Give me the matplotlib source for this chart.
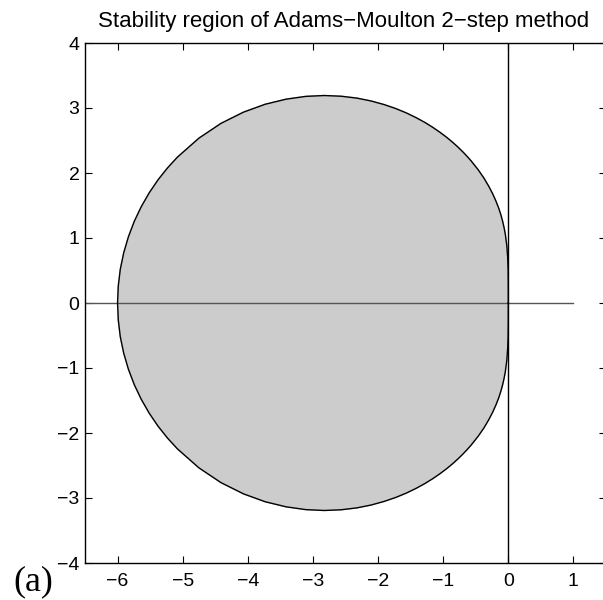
import matplotlib
matplotlib.use("Agg")
import matplotlib.pyplot as plt

# boundary of the stability region (upper half)
bound_x = [0.0, -0.000, -0.001, -0.003, -0.010, -0.023, -0.047, -0.065, -0.087,
           -0.114, -0.148, -0.190, -0.240, -0.301, -0.374, -0.463, -0.570,
           -0.632, -0.700, -0.775, -0.857, -0.948, -1.048, -1.158, -1.280,
           -1.415, -1.563, -1.727, -1.908, -2.107, -2.325, -2.565, -2.826,
           -3.108, -3.411, -3.732, -4.067, -4.411, -4.752, -5.080, -5.234,
           -5.380, -5.514, -5.636, -5.743, -5.833, -5.905, -5.958, -5.989, -6.0]
bound_y = [0.0, 0.175, 0.349, 0.524, 0.700, 0.880, 1.064, 1.159, 1.256,
           1.356, 1.460, 1.568, 1.680, 1.797, 1.921, 2.050, 2.185,
           2.255, 2.327, 2.400, 2.474, 2.550, 2.625, 2.701, 2.777,
           2.851, 2.923, 2.991, 3.053, 3.108, 3.152, 3.181, 3.192,
           3.179, 3.136, 3.058, 2.936, 2.764, 2.535, 2.245, 2.077,
           1.893, 1.695, 1.482, 1.257, 1.020, 0.774, 0.520, 0.261, 0.0]

x_ticks = [-6, -5, -4, -3, -2, -1, 0, 1]
y_ticks = [-4, -3, -2, -1, 0, 1, 2, 3, 4]
real_axis = [-6.5, 1]
imag_axis = [-4, 4]

title = "Stability region of Adams\u2212Moulton 2\u2212step method"

plt.rcParams['font.family'] = ['Liberation Sans', 'DejaVu Sans']

fig = plt.figure(figsize=(6.03, 6.0), dpi=100)
ax = fig.add_axes([85 / 603, 37 / 600, 521 / 603, 520 / 600])

# full closed curve (lower half mirrors the upper)
xs = bound_x + bound_x[::-1]
ys = bound_y + [-v for v in bound_y[::-1]]

ax.fill(xs, ys, color="#cccccc", zorder=1)
ax.plot(xs, ys, color="black", lw=1.0, zorder=3)
ax.plot(real_axis, [0, 0], color="#555555", lw=1.0, zorder=2)
ax.plot([0, 0], imag_axis, color="black", lw=1.0, zorder=2)

ax.set_xlim(-6.5, 1.5)
ax.set_ylim(-4, 4)
ax.set_xticks(x_ticks)
ax.set_yticks(y_ticks)
ax.set_xticklabels([str(t).replace("-", "\u2212") for t in x_ticks])
ax.set_yticklabels([str(t).replace("-", "\u2212") for t in y_ticks])
ax.tick_params(direction="in", length=5, width=0.8, top=True, right=True,
               labelsize=14)
ax.tick_params(axis="x", pad=7)
ax.tick_params(axis="y", pad=4)
for s in ax.spines.values():
    s.set_linewidth(1.0)

fig.text(344 / 603, 1 - 27 / 600, title, ha="center", va="baseline", fontsize=16)
fig.text(13 / 603, 1 - 590 / 600, "(a)", ha="left", va="baseline", fontsize=26,
         family=["Liberation Serif", "DejaVu Serif"])

fig.savefig("out.png", dpi=100)
